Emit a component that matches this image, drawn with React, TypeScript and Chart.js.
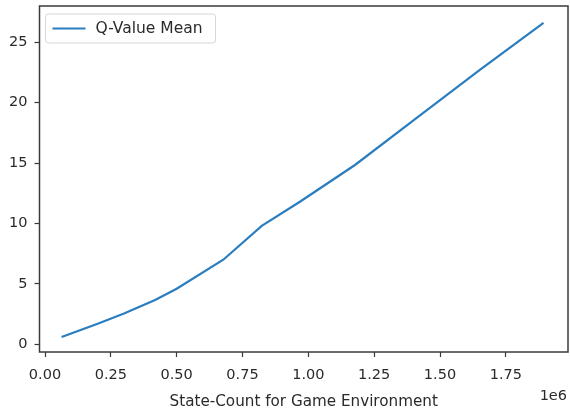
import React, { useEffect, useRef } from "react";
import { Chart, registerables } from "chart.js";

Chart.register(...registerables);

const stateCounts = [63000, 200000, 300000, 418000, 500000, 677000, 823000, 968000, 1177000, 1424000, 1650000, 1893000];
const qValueMean = [0.6, 1.7, 2.55, 3.67, 4.6, 7.0, 9.8, 11.8, 14.84, 18.95, 22.7, 26.6];
const xTickValues = [0, 250000, 500000, 750000, 1000000, 1250000, 1500000, 1750000];
const yTickValues = [0, 5, 10, 15, 20, 25];
const seriesLabel = "Q-Value Mean";
const xTitle = "State-Count for Game Environment";
const xExponent = "1e6";

const FRAME = "#3a3a3a";
const TEXT = "#2a2a2a";
const LINE = "#2a7dbf";
const FONT = "'DejaVu Sans', sans-serif";

const framePlugin = {
  id: "frameLegend",
  afterDraw(chart: any) {
    const { ctx, chartArea } = chart;
    const { left, right, top, bottom } = chartArea;
    ctx.save();
    ctx.strokeStyle = FRAME;
    ctx.lineWidth = 1.5;
    ctx.strokeRect(left, top, right - left, bottom - top);
    const bx = left + 6, by = top + 8, bw = 170, bh = 29, r = 3;
    ctx.beginPath();
    ctx.moveTo(bx + r, by);
    ctx.lineTo(bx + bw - r, by);
    ctx.arcTo(bx + bw, by, bx + bw, by + r, r);
    ctx.lineTo(bx + bw, by + bh - r);
    ctx.arcTo(bx + bw, by + bh, bx + bw - r, by + bh, r);
    ctx.lineTo(bx + r, by + bh);
    ctx.arcTo(bx, by + bh, bx, by + bh - r, r);
    ctx.lineTo(bx, by + r);
    ctx.arcTo(bx, by, bx + r, by, r);
    ctx.closePath();
    ctx.fillStyle = "rgba(255,255,255,0.8)";
    ctx.fill();
    ctx.strokeStyle = "#d6d6d6";
    ctx.lineWidth = 1;
    ctx.stroke();
    const ly = by + bh / 2;
    ctx.strokeStyle = LINE;
    ctx.lineWidth = 2.2;
    ctx.beginPath();
    ctx.moveTo(bx + 7, ly);
    ctx.lineTo(bx + 40, ly);
    ctx.stroke();
    ctx.fillStyle = TEXT;
    ctx.font = `15.5px ${FONT}`;
    ctx.textBaseline = "middle";
    ctx.textAlign = "left";
    ctx.fillText(chart.data.datasets[0].label, bx + 50, ly + 0.5);
    ctx.font = `14.5px ${FONT}`;
    ctx.textAlign = "right";
    ctx.fillText(xExponent, right - 1, 396);
    ctx.restore();
  },
};

export default function App() {
  const ref = useRef<HTMLCanvasElement | null>(null);
  useEffect(() => {
    if (!ref.current) return;
    const chart = new Chart(ref.current, {
      type: "line",
      data: {
        datasets: [
          {
            label: seriesLabel,
            data: stateCounts.map((x, i) => ({ x, y: qValueMean[i] })),
            borderColor: LINE,
            borderWidth: 2.2,
            pointRadius: 0,
            fill: false,
            tension: 0,
          },
        ],
      },
      options: {
        animation: false,
        responsive: false,
        maintainAspectRatio: false,
        events: [],
        layout: { padding: { top: 6, right: 2, left: 0, bottom: 0 } },
        plugins: { legend: { display: false }, tooltip: { enabled: false } },
        scales: {
          x: {
            type: "linear",
            min: -20900,
            max: 1986000,
            afterFit: (s: any) => { s.height = 59; s.paddingLeft = 0; s.paddingRight = 0; },
            afterBuildTicks: (s: any) => { s.ticks = xTickValues.map((v) => ({ value: v })); },
            border: { display: false },
            grid: { drawOnChartArea: false, drawTicks: true, tickLength: 5, color: FRAME, tickWidth: 1.2 },
            ticks: {
              color: TEXT,
              font: { family: FONT, size: 14.5 },
              padding: 10,
              maxRotation: 0,
              autoSkip: false,
              callback: (v: any) => (Number(v) / 1e6).toFixed(2),
            },
            title: {
              display: true,
              text: xTitle,
              color: TEXT,
              font: { family: FONT, size: 15.2 },
              padding: { top: 0, bottom: 0 },
            },
          },
          y: {
            type: "linear",
            min: -0.64,
            max: 28.0,
            afterFit: (s: any) => { s.width = 39.5; s.paddingTop = 0; s.paddingBottom = 0; },
            afterBuildTicks: (s: any) => { s.ticks = yTickValues.map((v) => ({ value: v })); },
            border: { display: false },
            grid: { drawOnChartArea: false, drawTicks: true, tickLength: 5, color: FRAME, tickWidth: 1.2 },
            ticks: {
              color: TEXT,
              font: { family: FONT, size: 14.5 },
              padding: 7,
              autoSkip: false,
              callback: (v: any) => String(v),
            },
          },
        },
      },
      plugins: [framePlugin],
    } as any);
    return () => chart.destroy();
  }, []);
  return (
    <div style={{ position: "fixed", left: 0, top: 0, width: 570, height: 411, background: "#fff" }}>
      <canvas ref={ref} width={570} height={411} style={{ width: 570, height: 411, display: "block" }} />
    </div>
  );
}
